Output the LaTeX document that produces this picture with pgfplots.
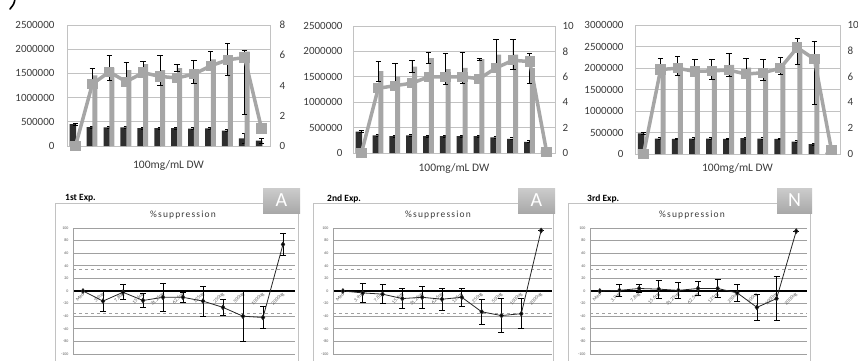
\documentclass[border=0pt]{standalone}
\usepackage{fontspec}
\setmainfont{Carlito}
\usepackage{pgfplots}
\pgfplotsset{compat=1.18}
\usepackage{pgfplotstable}
\definecolor{barDark}{HTML}{2E2E2E}
\definecolor{barGray}{HTML}{A6A6A6}
\definecolor{gridGray}{HTML}{C2C2C2}
\definecolor{txt}{HTML}{3A3A3A}
\definecolor{bgrid}{HTML}{A0A0A0}

% ---------- top panel data ----------
\pgfplotstableread{
x d de
0 450000 22000
1 390000 22000
2 385000 22000
3 385000 22000
4 370000 20000
5 370000 20000
6 370000 20000
7 360000 20000
8 365000 20000
9 320000 20000
10 160000 100000
11 110000 50000
}\dA
\pgfplotstableread{
x g gp gm
1 1460000 135000 135000
2 1620000 260000 260000
3 1570000 145000 145000
4 1690000 60000 60000
5 1570000 310000 310000
6 1610000 80000 80000
7 1530000 240000 240000
8 1790000 155000 155000
9 1790000 330000 330000
10 1950000 20000 1290000
}\gA
\pgfplotstableread{
x r
0 0
1 4.1
2 4.9
3 4.25
4 4.85
5 4.6
6 4.5
7 4.75
8 5.3
9 5.7
10 5.85
11 1.15
}\lA

\pgfplotstableread{
x d de
0 420000 20000
1 345000 20000
2 330000 20000
3 345000 20000
4 330000 20000
5 330000 20000
6 330000 20000
7 330000 20000
8 310000 20000
9 280000 20000
10 220000 20000
11 50000 10000
}\dB
\pgfplotstableread{
x g gp gm
1 1610000 200000 200000
2 1505000 260000 260000
3 1700000 120000 120000
4 1870000 105000 105000
5 1650000 310000 310000
6 1676000 300000 300000
7 1850000 20000 20000
8 1937000 300000 300000
9 1937000 300000 300000
10 1670000 294000 294000
}\gB
\pgfplotstableread{
x r
0 0
1 5.1
2 5.3
3 5.5
4 6.0
5 6.0
6 6.0
7 5.85
8 6.7
9 7.3
10 7.2
11 0.1
}\lB

\pgfplotstableread{
x d de
0 480000 20000
1 360000 20000
2 350000 20000
3 360000 20000
4 360000 20000
5 350000 20000
6 370000 20000
7 360000 20000
8 350000 20000
9 290000 20000
10 230000 20000
11 30000 10000
}\dC
\pgfplotstableread{
x g gp gm
1 2090000 136000 136000
2 2058000 221000 221000
3 2039000 163000 163000
4 1969000 233000 233000
5 2070000 271000 271000
6 2011000 213000 213000
7 1965000 244000 244000
8 2054000 194000 194000
9 2380000 310000 310000
10 2150000 460000 1010000
}\gC
\pgfplotstableread{
x r
0 0
1 6.55
2 6.65
3 6.4
4 6.45
5 6.5
6 6.2
7 6.3
8 6.65
9 8.25
10 7.35
11 0.3
}\lC

% ---------- bottom panel data ----------
\pgfplotstableread{
x y e
0 0 0
1 -16 17
2 -2 12
3 -15 11
4 -10 22
5 -10 8
6 -16 24
7 -26 13
8 -40 40
9 -42 18
10 74 18
}\sA
\pgfplotstableread{
x y e
0 0 0
1 -3 15
2 -5 15
3 -12 16
4 -10 17
5 -13 17
6 -10 14
7 -33 20
8 -39 27
9 -36 24
10 96 0
}\sB
\pgfplotstableread{
x y e
0 0 0
1 1 10
2 4 6
3 3 14
4 1 13
5 4 11
6 4 14
7 -3 14
8 -26 21
9 -12 35
10 95 0
}\sC

\pgfplotsset{
  /pgf/number format/assume math mode=true,
  topleft/.style={scale only axis, anchor=south west, xmin=-0.5, xmax=11.5, ymin=0,
    scaled y ticks=false,
    axis line style={gridGray, line width=1pt}, ymajorgrids,
    grid style={gridGray, line width=1pt}, xtick=\empty, major tick length=0pt,
    yticklabel style={font=\fontsize{11}{12}\selectfont, text=txt, anchor=east},
    xlabel style={font=\fontsize{11.5}{13}\selectfont, text=txt, at={(axis description cs:0.5,0)}, anchor=center},
    clip=false},
  topright/.style={scale only axis, anchor=south west, xmin=-0.5, xmax=11.5, ymin=0,
    axis y line*=right, axis x line=none, axis line style={gridGray, line width=1pt},
    major tick length=0pt,
    yticklabel style={font=\fontsize{11}{12}\selectfont, text=txt, anchor=west},
    clip=false},
  darkbar/.style={ybar, bar width=6.5pt, bar shift=-2.5pt, fill=barDark, draw=none,
    error bars/.cd, y dir=both, y explicit,
    error bar style={black, line width=0.8pt},
    error mark options={rotate=90, black, line width=0.9pt, mark size=2.5pt}},
  graybar/.style={ybar, bar width=5pt, bar shift=2.6pt, fill=barGray, draw=none,
    error bars/.cd, y dir=both, y explicit,
    error bar style={black, line width=0.8pt},
    error mark options={rotate=90, black, line width=1pt, mark size=2.7pt}},
  grayline/.style={barGray, line width=3.5pt, mark=square*, mark size=3.4pt, mark options={solid, fill=barGray}},
  bottom/.style={scale only axis, anchor=south west, height=126pt, xmin=-0.5, ymin=-100, ymax=100,
    axis x line=middle, axis y line=left, axis line style={-},
    x axis line style={black, line width=2pt}, y axis line style={bgrid, line width=0.6pt},
    hide obscured x ticks=false, hide obscured y ticks=false,
    ytick={-100,-80,...,100}, ymajorgrids, grid style={bgrid, line width=1pt},
    extra y ticks={-35,35}, extra y tick labels={},
    extra y tick style={grid=major, major grid style={bgrid, dashed, line width=0.9pt}},
    xtick={0,...,10},
    xticklabels={Med,3.9ug,7.8ug,15.6ug,31.25ug,62.5ug,125ug,250ug,500ug,1000ug,2000ug},
    major tick length=0pt,
    yticklabel style={font=\fontsize{4}{4.5}\selectfont, text=black!65, anchor=east, xshift=-1pt},
    xticklabel style={font=\fontsize{5}{5.5}\selectfont, text=black!65, rotate=45, anchor=east, xshift=2pt, yshift=-2pt},
    clip=false},
  supp/.style={black!85, line width=0.8pt, mark=diamond*, mark size=2.3pt, mark options={solid, fill=black},
    error bars/.cd, y dir=both, y explicit,
    error bar style={black, line width=0.7pt},
    error mark options={rotate=90, black, line width=0.8pt, mark size=3pt}},
}

\begin{document}
\begin{tikzpicture}
\useasboundingbox (0,0) rectangle (858pt,360pt);

% ===== top panel 1 =====
\begin{axis}[topleft, at={(67pt,214pt)}, width=203pt, height=121pt, ymax=2500000,
  ytick={0,500000,1000000,1500000,2000000,2500000},
  yticklabels={0,500000,1000000,1500000,2000000,2500000},
  yticklabel style={xshift=-9pt},
  xlabel={100mg/mL DW}, xlabel style={yshift=-19pt}]
\addplot[darkbar] table[x=x, y=d, y error=de]{\dA};
\addplot[graybar] table[x=x, y=g, y error plus=gp, y error minus=gm]{\gA};
\end{axis}
\begin{axis}[topright, at={(67pt,214pt)}, width=203pt, height=121pt, ymax=8,
  ytick={0,2,4,6,8}, yticklabel style={xshift=6pt}]
\addplot[grayline] table[x=x, y=r]{\lA};
\end{axis}

% ===== top panel 2 =====
\begin{axis}[topleft, at={(353pt,207pt)}, width=202pt, height=127pt, ymax=2500000,
  ytick={0,500000,1000000,1500000,2000000,2500000},
  yticklabels={0,500000,1000000,1500000,2000000,2500000},
  yticklabel style={xshift=-7pt},
  xlabel={100mg/mL DW}, xlabel style={yshift=-15pt}]
\addplot[darkbar] table[x=x, y=d, y error=de]{\dB};
\addplot[graybar] table[x=x, y=g, y error plus=gp, y error minus=gm]{\gB};
\end{axis}
\begin{axis}[topright, at={(353pt,207pt)}, width=202pt, height=127pt, ymax=10,
  ytick={0,2,4,6,8,10}, yticklabel style={xshift=4pt}]
\addplot[grayline] table[x=x, y=r]{\lB};
\end{axis}

% ===== top panel 3 =====
\begin{axis}[topleft, at={(635pt,206pt)}, width=205pt, height=129pt, ymax=3000000,
  ytick={0,500000,1000000,1500000,2000000,2500000,3000000},
  yticklabels={0,500000,1000000,1500000,2000000,2500000,3000000},
  yticklabel style={xshift=-8pt},
  xlabel={100mg/mL DW}, xlabel style={yshift=-14pt}]
\addplot[darkbar] table[x=x, y=d, y error=de]{\dC};
\addplot[graybar] table[x=x, y=g, y error plus=gp, y error minus=gm]{\gC};
\end{axis}
\begin{axis}[topright, at={(635pt,206pt)}, width=205pt, height=129pt, ymax=10,
  ytick={0,2,4,6,8,10}, yticklabel style={xshift=4pt}]
\addplot[grayline] table[x=x, y=r]{\lC};
\end{axis}

% ===== bottom panel frames and headers =====
\draw[gridGray, line width=0.9pt] (55pt,-5pt) -- (55pt,157pt) -- (298pt,157pt) -- (298pt,-5pt);
\draw[gridGray, line width=0.9pt] (313pt,-5pt) -- (313pt,157pt) -- (553pt,157pt) -- (553pt,-5pt);
\draw[gridGray, line width=0.9pt] (568pt,-5pt) -- (568pt,157pt) -- (810pt,157pt) -- (810pt,-5pt);

\node[anchor=west, font=\bfseries\fontsize{9.5}{10}\selectfont, inner sep=0pt] at (65pt,162pt) {1st Exp.};
\node[anchor=west, font=\bfseries\fontsize{9.5}{10}\selectfont, inner sep=0pt] at (327pt,161pt) {2nd Exp.};
\node[anchor=west, font=\bfseries\fontsize{9.5}{10}\selectfont, inner sep=0pt] at (587pt,161pt) {3rd Exp.};

\node[font=\fontsize{9.5}{10}\selectfont\addfontfeatures{LetterSpace=12}, text=txt] at (183pt,145pt) {\%suppression};
\node[font=\fontsize{9.5}{10}\selectfont\addfontfeatures{LetterSpace=12}, text=txt] at (438pt,145pt) {\%suppression};
\node[font=\fontsize{9.5}{10}\selectfont\addfontfeatures{LetterSpace=12}, text=txt] at (692pt,145pt) {\%suppression};

\shade[top color=gray!40, bottom color=gray!68] (263pt,147pt) rectangle (300pt,172pt);
\node[text=white, font=\fontsize{20}{20}\selectfont] at (281.5pt,159.5pt) {A};
\shade[top color=gray!40, bottom color=gray!68] (518pt,147pt) rectangle (555pt,172pt);
\node[text=white, font=\fontsize{20}{20}\selectfont] at (536.5pt,159.5pt) {A};
\shade[top color=gray!40, bottom color=gray!68] (777pt,147pt) rectangle (812pt,172pt);
\node[text=white, font=\fontsize{20}{20}\selectfont] at (794.5pt,159.5pt) {N};

% ===== bottom panels =====
\begin{axis}[bottom, at={(73pt,6pt)}, width=222pt, xmax=10.6]
\addplot[supp] table[x=x, y=y, y error=e]{\sA};
\end{axis}
\begin{axis}[bottom, at={(333pt,6pt)}, width=219pt, xmax=10.55]
\addplot[supp] table[x=x, y=y, y error=e]{\sB};
\end{axis}
\begin{axis}[bottom, at={(590pt,6pt)}, width=217pt, xmax=10.55]
\addplot[supp] table[x=x, y=y, y error=e]{\sC};
\end{axis}

% cropped panel letter fragment at the top-left corner
\draw[black, line width=1.6pt, line cap=round] (15pt,361pt) .. controls (14pt,356pt) .. (10pt,351pt);
\end{tikzpicture}
\end{document}
